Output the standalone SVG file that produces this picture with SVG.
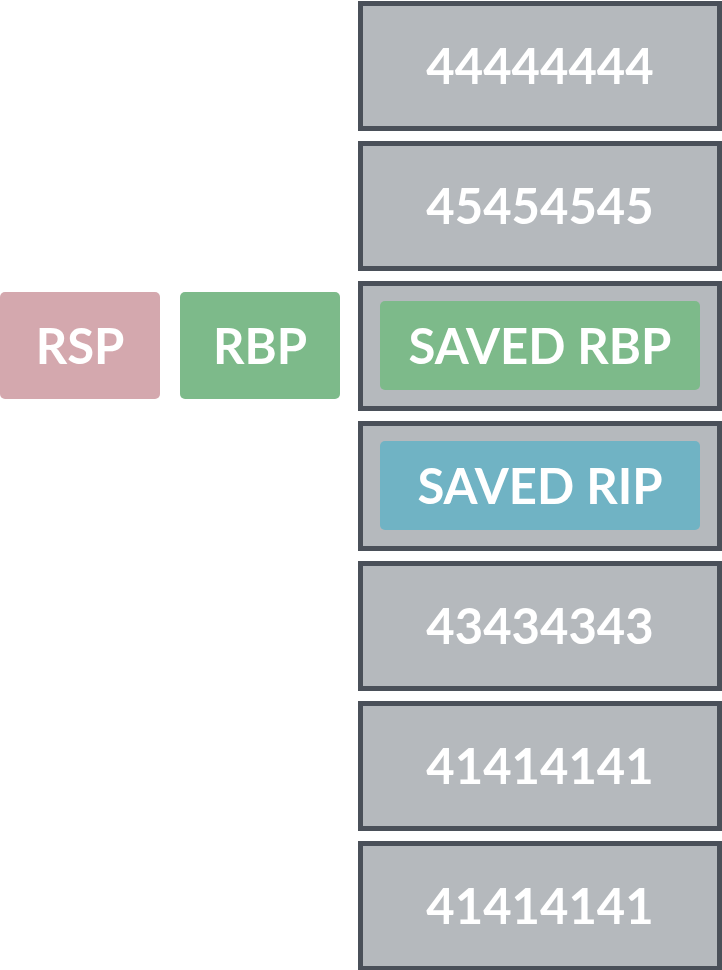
<svg xmlns="http://www.w3.org/2000/svg" width="722" height="970" viewBox="0 0 722 970">
<style>
.cell{fill:#b5b9bd;stroke:#4a5059;stroke-width:5}
.t{font-family:Lato,"Open Sans","Liberation Sans",sans-serif;font-weight:bold;font-size:49px;fill:#ffffff;text-anchor:middle}
</style>
<rect width="722" height="970" fill="#ffffff"/>
<g id="cell1"><rect class="cell" x="360.5" y="3.5" width="359" height="125"/><text class="t" x="540" y="84">44444444</text></g>
<g id="cell2"><rect class="cell" x="360.5" y="143.5" width="359" height="125"/><text class="t" x="540" y="224">45454545</text></g>
<g id="cell3"><rect class="cell" x="360.5" y="283.5" width="359" height="125"/><rect x="380" y="301" width="320" height="89" rx="5" fill="#7dba8a"/><text class="t" x="540" y="364">SAVED RBP</text></g>
<g id="cell4"><rect class="cell" x="360.5" y="423.5" width="359" height="125"/><rect x="380" y="441" width="320" height="89" rx="5" fill="#70b3c4"/><text class="t" x="540" y="504">SAVED RIP</text></g>
<g id="cell5"><rect class="cell" x="360.5" y="563.5" width="359" height="125"/><text class="t" x="540" y="644">43434343</text></g>
<g id="cell6"><rect class="cell" x="360.5" y="703.5" width="359" height="125"/><text class="t" x="540" y="784">41414141</text></g>
<g id="cell7"><rect class="cell" x="360.5" y="843.5" width="359" height="125"/><text class="t" x="540" y="924">41414141</text></g>
<g id="rsp"><rect x="0" y="292" width="160" height="107" rx="5" fill="#d4a8ae"/><text class="t" x="80" y="364">RSP</text></g>
<g id="rbp"><rect x="180" y="292" width="160" height="107" rx="5" fill="#7dba8a"/><text class="t" x="260" y="364">RBP</text></g>
<g id="connectors"></g>
</svg>
